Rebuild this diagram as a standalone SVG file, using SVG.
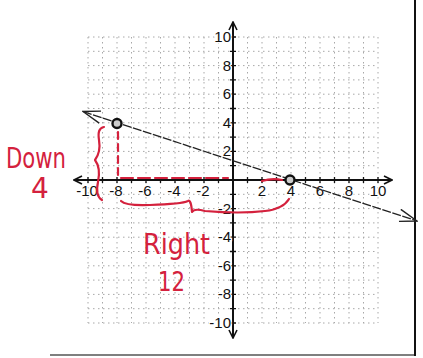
<svg xmlns="http://www.w3.org/2000/svg" width="423" height="358" viewBox="0 0 423 358">
<style>
.grid{stroke:#a8a8a8;stroke-width:1;stroke-dasharray:1.5 3.5;fill:none}
.axis{stroke:#111;stroke-width:2;fill:none}
.tick{stroke:#111;stroke-width:1.3}
.lbl{font-family:"Liberation Sans",Arial,sans-serif;font-size:15px;fill:#111;paint-order:stroke;stroke:#fff;stroke-width:2.5px}
.red{stroke:#d4213d;stroke-width:2.2;fill:none;stroke-linecap:round;stroke-linejoin:round}
.hand{font-family:"DejaVu Sans","Liberation Sans",sans-serif;fill:#d4213d;font-weight:normal}
.pt{fill:#ccc;stroke:#111;stroke-width:2.4}
</style>
<defs>
<marker id="chev" viewBox="0 0 10 10" refX="9" refY="5" markerWidth="10" markerHeight="10" markerUnits="userSpaceOnUse" orient="auto-start-reverse">
<path d="M1,1 L9,5 L1,9" fill="none" stroke="#111" stroke-width="1.6"/>
</marker>
<marker id="lchev" viewBox="0 0 22 14" refX="21" refY="7" markerWidth="22" markerHeight="14" markerUnits="userSpaceOnUse" orient="auto-start-reverse">
<path d="M2,1 L21,7 L4,13" fill="none" stroke="#222" stroke-width="1.4"/>
</marker>
</defs>
<rect width="423" height="358" fill="#fff"/>
<g id="frame">
<line x1="415" y1="0" x2="415" y2="356" stroke="#111" stroke-width="2"/>
<line x1="50" y1="355" x2="414" y2="355" stroke="#555" stroke-width="1.5"/>
</g>
<g id="grid">
<path class="grid" d="M88,37V323M102.5,37V323M117,37V323M131.5,37V323M146,37V323M160.5,37V323M175,37V323M189.5,37V323M204,37V323M218.5,37V323M247.5,37V323M262,37V323M276.5,37V323M291,37V323M305.5,37V323M320,37V323M334.5,37V323M349,37V323M363.5,37V323M378,37V323"/>
<path class="grid" d="M88,37H378M88,51.3H378M88,65.6H378M88,79.9H378M88,94.2H378M88,108.5H378M88,122.8H378M88,137.1H378M88,151.4H378M88,165.7H378M88,194.3H378M88,208.6H378M88,222.9H378M88,237.2H378M88,251.5H378M88,265.8H378M88,280.1H378M88,294.4H378M88,308.7H378M88,323H378"/>
</g>
<g id="axes">
<line class="axis" x1="74" y1="180" x2="392" y2="180" marker-start="url(#chev)" marker-end="url(#chev)"/>
<line class="axis" x1="233" y1="22" x2="233" y2="338" marker-start="url(#chev)" marker-end="url(#chev)"/>
<path class="tick" d="M88,177V183M102.5,177V183M117,177V183M131.5,177V183M146,177V183M160.5,177V183M175,177V183M189.5,177V183M204,177V183M218.5,177V183M247.5,177V183M262,177V183M276.5,177V183M291,177V183M305.5,177V183M320,177V183M334.5,177V183M349,177V183M363.5,177V183M378,177V183"/>
<path class="tick" d="M230,37H236M230,51.3H236M230,65.6H236M230,79.9H236M230,94.2H236M230,108.5H236M230,122.8H236M230,137.1H236M230,151.4H236M230,165.7H236M230,194.3H236M230,208.6H236M230,222.9H236M230,237.2H236M230,251.5H236M230,265.8H236M230,280.1H236M230,294.4H236M230,308.7H236M230,323H236"/>
</g>
<g id="xlabels" class="lbl" text-anchor="middle">
<text x="87" y="196">-10</text>
<text x="116" y="196">-8</text>
<text x="145" y="196">-6</text>
<text x="174" y="196">-4</text>
<text x="203" y="196">-2</text>
<text x="262" y="196">2</text>
<text x="291" y="196">4</text>
<text x="320" y="196">6</text>
<text x="349" y="196">8</text>
<text x="378" y="196">10</text>
</g>
<g id="ylabels" class="lbl" text-anchor="end">
<text x="231" y="42">10</text>
<text x="231" y="71">8</text>
<text x="231" y="99">6</text>
<text x="231" y="128">4</text>
<text x="231" y="156">2</text>
<text x="231" y="214">-2</text>
<text x="231" y="242">-4</text>
<text x="231" y="271">-6</text>
<text x="231" y="299">-8</text>
<text x="231" y="328">-10</text>
</g>
<g id="connectors">
<line x1="83" y1="111.5" x2="417" y2="221" stroke="#222" stroke-width="1.3" stroke-dasharray="9 1.5" marker-start="url(#lchev)" marker-end="url(#lchev)"/>
</g>
<g id="point-a"><circle class="pt" cx="117" cy="123.5" r="4.5"/></g>
<g id="point-b"><circle class="pt" cx="290" cy="180" r="4.5"/></g>
<g id="annotations">
<line class="red" x1="118" y1="132" x2="118" y2="176" stroke-width="2.6" stroke-dasharray="7 5"/>
<path class="red" d="M121,178 H228" stroke-dasharray="12 5"/>
<path class="red" d="M262,181 Q272,178 282,180"/>
<path class="red" d="M104,127 Q97,128 99,140 Q101,152 95,160 Q101,168 98,182 Q95,196 102,200"/>
<path class="red" d="M121,201 Q126,206 150,205 Q182,204 188,201 Q191,199 192,212 Q194,208 205,211 Q240,214 265,211 Q283,209 289,199"/>
<text class="hand" x="6" y="168" font-size="29" textLength="60" lengthAdjust="spacingAndGlyphs">Down</text>
<text class="hand" x="31" y="198" font-size="28">4</text>
<text class="hand" x="143" y="254" font-size="28" textLength="67" lengthAdjust="spacingAndGlyphs">Right</text>
<text class="hand" x="158" y="291" font-size="27" textLength="27" lengthAdjust="spacingAndGlyphs">12</text>
</g>
</svg>
